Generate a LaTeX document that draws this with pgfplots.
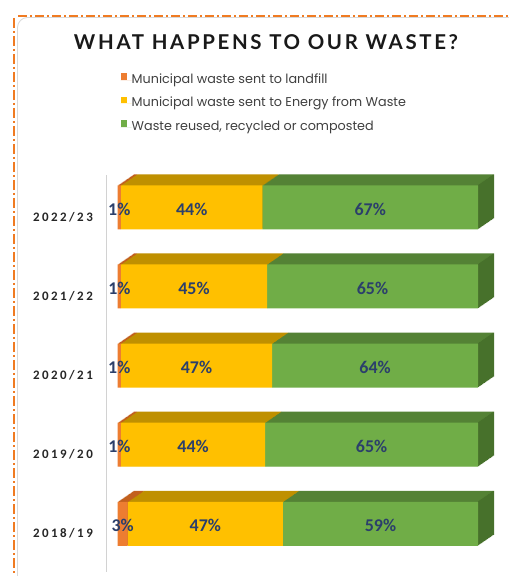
\documentclass[border=0pt]{standalone}
\usepackage{fontspec}
\setmainfont{Carlito}
\usepackage{pgfplots}
\usepackage{pgfplotstable}
\pgfplotsset{compat=1.18}
\newfontfamily\titlefont[LetterSpace=13]{Lato}
\newfontfamily\legfont{Poppins}
\newfontfamily\catfont[LetterSpace=19]{Carlito}
\newfontfamily\lblfont{Carlito}

\definecolor{lfF}{HTML}{ED7D31}\definecolor{lfT}{HTML}{C2601E}
\definecolor{efF}{HTML}{FFC000}\definecolor{efT}{HTML}{BF9000}
\definecolor{rcF}{HTML}{70AD47}\definecolor{rcT}{HTML}{548235}\definecolor{rcS}{HTML}{47712B}
\definecolor{lbl}{HTML}{2B3F6B}
\definecolor{frame}{HTML}{F07B22}

\pgfplotstableread{
pos year landfill efw recycled
0 2018/19 3 47 59
1 2019/20 1 44 65
2 2020/21 1 47 64
3 2021/22 1 45 65
4 2022/23 1 44 67
}\waste

\pgfplotsset{
 base/.style={scale only axis, width=372bp, height=397bp, anchor=south west,
   xmin=-3.25, xmax=100, ymin=-0.6093, ymax=4.4096},
 bars/.style={base, xbar stacked, bar width=44bp},
}
\newcommand{\T}{(\thisrow{landfill}+\thisrow{efw}+\thisrow{recycled})}

\begin{document}
\begin{tikzpicture}[x=1bp,y=1bp]
\useasboundingbox (0,0) rectangle (509,576);
\fill[white] (0,0) rectangle (509,576);
\draw[gray!30, line width=0.8bp, rounded corners=10bp] (530,558.5) -- (17.5,558.5) -- (17.5,-20);
\draw[frame, line width=1.8bp, dash pattern=on 9bp off 3bp on 2bp off 3bp] (18,560) -- (509,560);
\draw[frame, line width=2.4bp, dash pattern=on 10bp off 3bp on 2bp off 3bp] (14,558) -- (14,0);

\node[font=\titlefont\bfseries\fontsize{20.5}{22}\selectfont, text=black!90] at (266,534) {WHAT HAPPENS TO OUR WASTE?};

\foreach \i in {16,15,...,1}{
\begin{axis}[bars, hide axis, at={(106bp+\i*1bp, 4bp+\i*0.6875bp)}]
 \addplot[fill=lfT, draw=none] table[x expr={\thisrow{landfill}/\T*100}, y=pos]{\waste};
 \addplot[fill=efT, draw=none] table[x expr={\thisrow{efw}/\T*100}, y=pos]{\waste};
 \addplot[fill=rcT, draw=none] table[x expr={\thisrow{recycled}/\T*100-0.35}, y=pos]{\waste};
 \addplot[fill=rcS, draw=none] table[x expr={0.35}, y=pos]{\waste};
\end{axis}
}

\begin{axis}[bars, at={(106bp,4bp)},
  axis x line=none, axis y line=left,
  axis line style={-, draw=gray!35, line width=0.8bp},
  ytick={0,...,4}, yticklabels={2018/19,2019/20,2020/21,2021/22,2022/23},
  major tick length=0pt,
  yticklabel style={font=\catfont\bfseries\fontsize{13}{14}\selectfont, text=black!85,
     inner sep=0pt, anchor=east, xshift=-13bp, yshift=-9.5bp},
  legend style={at={(0.0395,1.256)}, anchor=north west, draw=none, fill=none,
     inner sep=0pt, outer sep=0pt, row sep=11bp,
     nodes={inner sep=0pt, text height=8.5bp, text depth=2.5bp},
     cells={anchor=west},
     font=\legfont\fontsize{12.8}{13}\selectfont, text=black!75},
  every axis plot post/.append style={legend image code/.code={\fill[##1] (0bp,0.4bp) rectangle (6.6bp,7bp); \path (0bp,0bp) -- (11bp,0bp);}},
]
 \addplot[fill=lfF, draw=none] table[x expr={\thisrow{landfill}/\T*100}, y=pos]{\waste};
 \addplot[fill=efF, draw=none] table[x expr={\thisrow{efw}/\T*100}, y=pos]{\waste};
 \addplot[fill=rcF, draw=none] table[x expr={\thisrow{recycled}/\T*100}, y=pos]{\waste};
 \legend{Municipal waste sent to landfill, Municipal waste sent to Energy from Waste, {Waste reused, recycled or composted}}
\end{axis}

\begin{axis}[base, hide axis, at={(106bp,4bp)},
  nodes near coords={\pgfplotspointmeta\%}, point meta=explicit symbolic,
  every node near coord/.append style={anchor=center, font=\lblfont\bfseries\fontsize{18}{20}\selectfont, text=lbl, yshift=-2bp}]
 \addplot[draw=none, mark=none] table[x expr={\thisrow{landfill}/\T*50}, y=pos, meta=landfill]{\waste};
 \addplot[draw=none, mark=none] table[x expr={(\thisrow{landfill}+\thisrow{efw}/2)/\T*100}, y=pos, meta=efw]{\waste};
 \addplot[draw=none, mark=none] table[x expr={(\thisrow{landfill}+\thisrow{efw}+\thisrow{recycled}/2)/\T*100}, y=pos, meta=recycled]{\waste};
\end{axis}
\end{tikzpicture}
\end{document}
